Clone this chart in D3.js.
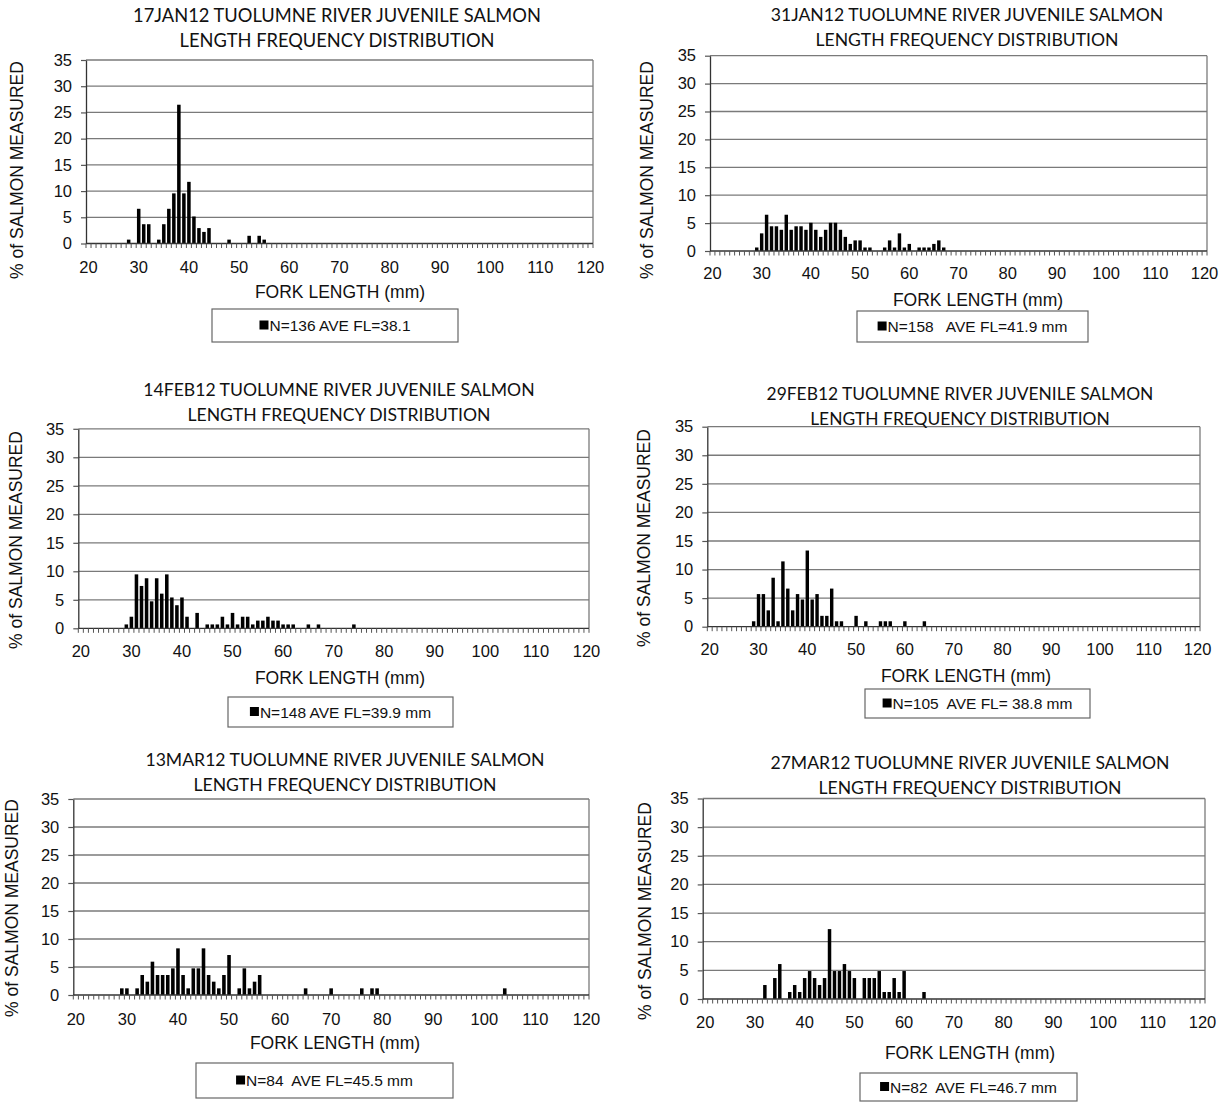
<!DOCTYPE html>
<html>
<head>
<meta charset="utf-8">
<script src="https://cdn.jsdelivr.net/npm/d3@7"></script>
<style>
  body { margin: 0; background: #fff; }
  svg { display: block; }
  text { fill: #111; }
</style>
</head>
<body>
<svg id="chart" width="1228" height="1102"></svg>
<script>
// Fork length classes (mm) on the category axis, and the labelled ticks
const forkLengths = d3.range(20, 121);
const xTickLabels = [20, 30, 40, 50, 60, 70, 80, 90, 100, 110, 120];
const yTickValues = [0, 5, 10, 15, 20, 25, 30, 35];

// Percent of salmon measured in each 1 mm fork length class, per survey
const jan17Lengths = [28, 30, 31, 32, 34, 35, 36, 37, 38, 39, 40, 41, 42, 43, 44, 48, 52, 54, 55];
const jan17Pct     = [0.74, 6.62, 3.68, 3.68, 0.74, 3.68, 6.62, 9.56, 26.47, 9.56, 11.76, 5.15, 2.94, 2.21, 2.94, 0.74, 1.47, 1.47, 0.74];

const jan31Lengths = [29, 30, 31, 32, 33, 34, 35, 36, 37, 38, 39, 40, 41, 42, 43, 44, 45, 46, 47, 48, 49, 50, 51, 52, 55, 56, 57, 58, 59, 60, 62, 63, 64, 65, 66, 67];
const jan31Pct     = [0.63, 3.16, 6.5, 4.43, 4.43, 3.80, 6.5, 3.80, 4.43, 4.43, 3.80, 5.06, 3.80, 2.53, 3.80, 5.06, 5.06, 3.80, 2.53, 1.27, 1.90, 1.90, 0.63, 0.63, 0.63, 1.90, 0.63, 3.16, 0.63, 1.27, 0.63, 0.63, 0.63, 1.27, 1.90, 0.63];

const feb14Lengths = [29, 30, 31, 32, 33, 34, 35, 36, 37, 38, 39, 40, 41, 43, 45, 46, 47, 48, 49, 50, 51, 52, 53, 54, 55, 56, 57, 58, 59, 60, 61, 62, 65, 67, 74];
const feb14Pct     = [0.68, 2.03, 9.46, 7.43, 8.78, 4.73, 8.78, 6.08, 9.46, 5.41, 4.05, 5.41, 2.03, 2.70, 0.68, 0.68, 0.68, 2.03, 0.68, 2.70, 0.68, 2.03, 2.03, 0.68, 1.35, 1.35, 2.03, 1.35, 1.35, 0.68, 0.68, 0.68, 0.68, 0.68, 0.68];

const feb29Lengths = [29, 30, 31, 32, 33, 34, 35, 36, 37, 38, 39, 40, 41, 42, 43, 44, 45, 46, 47, 50, 52, 55, 56, 57, 60, 64];
const feb29Pct     = [0.95, 5.71, 5.71, 2.86, 8.57, 0.95, 11.43, 6.67, 2.86, 5.71, 4.76, 13.33, 4.76, 5.71, 1.90, 1.90, 6.67, 0.95, 0.95, 1.90, 0.95, 0.95, 0.95, 0.95, 0.95, 0.95];

const mar13Lengths = [29, 30, 32, 33, 34, 35, 36, 37, 38, 39, 40, 41, 42, 43, 44, 45, 46, 47, 48, 49, 50, 52, 53, 54, 55, 56, 65, 70, 76, 78, 79, 104];
const mar13Pct     = [1.19, 1.19, 1.19, 3.57, 2.38, 5.95, 3.57, 3.57, 3.57, 4.76, 8.33, 3.57, 1.19, 4.76, 4.76, 8.33, 3.57, 2.38, 1.19, 3.57, 7.14, 1.19, 4.76, 1.19, 2.38, 3.57, 1.19, 1.19, 1.19, 1.19, 1.19, 1.19];

const mar27Lengths = [32, 34, 35, 37, 38, 39, 40, 41, 42, 43, 44, 45, 46, 47, 48, 49, 50, 52, 53, 54, 55, 56, 57, 58, 59, 60, 64];
const mar27Pct     = [2.44, 3.66, 6.10, 1.22, 2.44, 1.22, 3.66, 4.88, 3.66, 2.44, 3.66, 12.20, 4.88, 4.88, 6.10, 4.88, 3.66, 3.66, 3.66, 3.66, 4.88, 1.22, 1.22, 3.66, 1.22, 4.88, 1.22];

const surveyDates = ["17JAN12", "31JAN12", "14FEB12", "29FEB12", "13MAR12", "27MAR12"];
const legendLabels = [
  "N=136 AVE FL=38.1",
  "N=158   AVE FL=41.9 mm",
  "N=148 AVE FL=39.9 mm",
  "N=105  AVE FL= 38.8 mm",
  "N=84  AVE FL=45.5 mm",
  "N=82  AVE FL=46.7 mm"
];
const titleLine2 = "LENGTH FREQUENCY DISTRIBUTION";
const xAxisTitle = "FORK LENGTH (mm)";
const yAxisTitle = "% of SALMON MEASURED";

const seriesLengths = [jan17Lengths, jan31Lengths, feb14Lengths, feb29Lengths, mar13Lengths, mar27Lengths];
const seriesPct = [jan17Pct, jan31Pct, feb14Pct, feb29Pct, mar13Pct, mar27Pct];

// Page layout of each of the six small charts
const layout = [
  { x0: 86,    x1: 593,  y0: 60,    y1: 243.5, tx: 337, ty: 22,  ts: 18.3, tickY: 273,  xtY: 298,  xtX: 340, yt: [17, 170],  box: [212, 309, 246, 33] },
  { x0: 710,   x1: 1207, y0: 55.7,  y1: 251,   tx: 967, ty: 21,  ts: 17.6, tickY: 279,  xtY: 306,  xtX: 978, yt: [647, 170], box: [857, 311, 231, 31] },
  { x0: 78.3,  x1: 589,  y0: 428.8, y1: 628.3, tx: 339, ty: 396, ts: 17.6, tickY: 657,  xtY: 684,  xtX: 340, yt: [16, 540],  box: [228, 697, 225, 30] },
  { x0: 707.3, x1: 1200, y0: 426.7, y1: 626.7, tx: 960, ty: 400, ts: 17.4, tickY: 655,  xtY: 682,  xtX: 966, yt: [644, 538], box: [865, 689, 225, 29] },
  { x0: 73.3,  x1: 589,  y0: 799,   y1: 995,   tx: 345, ty: 766, ts: 17.6, tickY: 1025, xtY: 1049, xtX: 335, yt: [12, 908],  box: [196, 1063, 257, 35] },
  { x0: 702.7, x1: 1205, y0: 798.5, y1: 999,   tx: 970, ty: 769, ts: 17.6, tickY: 1028, xtY: 1059, xtX: 970, yt: [645, 911], box: [860, 1073, 217, 28] }
];

const svg = d3.select("#chart");
const axisFont = "'Liberation Sans', Arial, sans-serif";
const titleFont = "Lato, 'Open Sans', sans-serif";

layout.forEach((p, i) => {
  const g = svg.append("g");
  const data = seriesLengths[i].map((len, k) => ({ len, pct: seriesPct[i][k] }));

  const x = d3.scaleBand().domain(forkLengths).range([p.x0, p.x1]).padding(0);
  const y = d3.scaleLinear().domain([0, 35]).range([p.y1, p.y0]);
  const bw = x.bandwidth();

  // horizontal gridlines
  g.append("g").selectAll("line").data(yTickValues.filter(v => v > 0)).join("line")
    .attr("x1", p.x0).attr("x2", p.x1)
    .attr("y1", d => y(d)).attr("y2", d => y(d))
    .attr("stroke", "#7a7a7a").attr("stroke-width", 1.3);

  // plot area frame (right side)
  g.append("line").attr("x1", p.x1).attr("x2", p.x1).attr("y1", p.y0).attr("y2", p.y1)
    .attr("stroke", "#7a7a7a").attr("stroke-width", 1.3);

  // bars
  g.append("g").selectAll("rect").data(data).join("rect")
    .attr("x", d => x(d.len) + bw * 0.15)
    .attr("width", bw * 0.7)
    .attr("y", d => y(d.pct))
    .attr("height", d => y(0) - y(d.pct))
    .attr("fill", "#000");

  // y axis
  const yAxis = g.append("g").attr("transform", `translate(${p.x0},0)`)
    .call(d3.axisLeft(y).tickValues(yTickValues).tickSize(5).tickSizeOuter(0).tickPadding(9));
  yAxis.select(".domain").attr("stroke", "#333").attr("stroke-width", 1.3);
  yAxis.selectAll(".tick line").attr("stroke", "#555").attr("stroke-width", 1.2);
  yAxis.selectAll(".tick text").attr("font-family", axisFont).attr("font-size", 16.5).attr("fill", "#111");

  // x axis line and a minor tick at every class boundary
  g.append("line").attr("x1", p.x0).attr("x2", p.x1).attr("y1", p.y1).attr("y2", p.y1)
    .attr("stroke", "#333").attr("stroke-width", 1.3);
  const bounds = forkLengths.map(c => x(c)).concat([p.x1]);
  g.append("g").selectAll("line").data(bounds).join("line")
    .attr("x1", d => d).attr("x2", d => d)
    .attr("y1", p.y1).attr("y2", p.y1 + 4.5)
    .attr("stroke", "#555").attr("stroke-width", 1);

  // x tick labels
  g.append("g").selectAll("text").data(xTickLabels).join("text")
    .attr("x", d => x(d) + bw / 2).attr("y", p.tickY)
    .attr("text-anchor", "middle")
    .attr("font-family", axisFont).attr("font-size", 16.5)
    .text(d => d);

  // axis titles
  g.append("text").attr("x", p.xtX).attr("y", p.xtY)
    .attr("text-anchor", "middle").attr("font-family", axisFont).attr("font-size", 17.5)
    .text(xAxisTitle);
  g.append("text")
    .attr("transform", `translate(${p.yt[0] + 6},${p.yt[1]}) rotate(-90)`)
    .attr("text-anchor", "middle").attr("font-family", axisFont).attr("font-size", 17.5)
    .text(yAxisTitle);

  // chart title, two lines
  g.append("text").attr("x", p.tx).attr("y", p.ty)
    .attr("text-anchor", "middle").attr("font-family", titleFont).attr("font-size", p.ts)
    .attr("fill", "#222")
    .text(`${surveyDates[i]} TUOLUMNE RIVER JUVENILE SALMON`);
  g.append("text").attr("x", p.tx).attr("y", p.ty + 25)
    .attr("text-anchor", "middle").attr("font-family", titleFont).attr("font-size", p.ts)
    .attr("fill", "#222")
    .text(titleLine2);

  // legend box with key square
  const [bx, by, bwid, bht] = p.box;
  const lg = g.append("g");
  lg.append("rect").attr("x", bx).attr("y", by).attr("width", bwid).attr("height", bht)
    .attr("fill", "#fff").attr("stroke", "#666").attr("stroke-width", 1.2);
  const lt = lg.append("text")
    .attr("y", by + bht / 2 + 5.5)
    .attr("font-family", axisFont).attr("font-size", 15.5)
    .attr("xml:space", "preserve").style("white-space", "pre")
    .text(legendLabels[i]);
  const tw = lt.node().getComputedTextLength();
  const keySize = 9;
  const startX = bx + (bwid - (tw + keySize + 1)) / 2;
  lg.append("rect").attr("x", startX).attr("y", by + bht / 2 - 5).attr("width", keySize).attr("height", keySize)
    .attr("fill", "#000");
  lt.attr("x", startX + keySize + 1);
});
</script>
</body>
</html>
